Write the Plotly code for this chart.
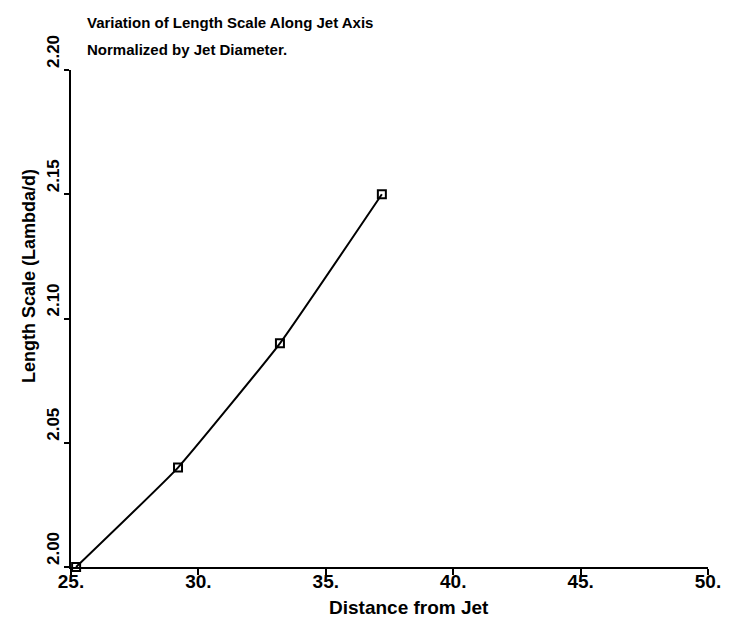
import plotly.graph_objects as go

# Length scale measured along the jet axis
distance = [25.2, 29.2, 33.2, 37.2]
length_scale = [2.00, 2.04, 2.09, 2.15]

x_ticks = [25, 30, 35, 40, 45, 50]
x_tick_text = ["25.", "30.", "35.", "40.", "45.", "50."]
y_ticks = [2.00, 2.05, 2.10, 2.15, 2.20]
y_tick_text = ["2.00", "2.05", "2.10", "2.15", "2.20"]

title_lines = ["Variation of Length Scale Along Jet Axis", "Normalized by Jet Diameter."]

FONT = "Liberation Sans, Arial, sans-serif"

# plot area in pixels (left, right, top, bottom)
L, R, T, B = 71, 708, 70, 567
W, H = R - L, B - T

fig = go.Figure()
fig.add_trace(go.Scatter(
    x=distance,
    y=length_scale,
    mode="lines+markers",
    line=dict(color="black", width=2, shape="spline", smoothing=0.35),
    marker=dict(symbol="square-open", size=8, color="black",
                line=dict(color="black", width=2)),
    cliponaxis=False,
    showlegend=False,
))

annotations = []
for i, line in enumerate(title_lines):
    annotations.append(dict(
        text=line,
        xref="paper", yref="paper",
        x=(85 - L) / W, y=1 + (T - (22 + 27 * i)) / H,
        xanchor="left", yanchor="middle",
        align="left",
        showarrow=False,
        font=dict(family=FONT, size=15, weight="bold"),
    ))
annotations.append(dict(
    text="Distance from Jet",
    xref="paper", yref="paper",
    x=(409 - L) / W, y=-(607 - B) / H,
    xanchor="center", yanchor="middle",
    showarrow=False,
    font=dict(family=FONT, size=19, weight="bold"),
))
annotations.append(dict(
    text="Length Scale (Lambda/d)",
    xref="paper", yref="paper",
    x=-(L - 29) / W, y=(B - 276) / H,
    xanchor="center", yanchor="middle",
    textangle=-90,
    showarrow=False,
    font=dict(family=FONT, size=18, weight="bold"),
))

fig.update_layout(
    width=732,
    height=621,
    margin=dict(l=L, r=732 - R, t=T, b=621 - B),
    paper_bgcolor="white",
    plot_bgcolor="white",
    font=dict(family=FONT, color="black"),
    xaxis=dict(
        range=[25, 50],
        tickmode="array",
        tickvals=x_ticks,
        ticktext=x_tick_text,
        ticks="outside",
        ticklen=6,
        tickwidth=1.5,
        tickcolor="black",
        showline=True,
        linecolor="black",
        linewidth=1.5,
        showgrid=False,
        zeroline=False,
        tickfont=dict(family=FONT, size=19, weight="bold"),
        ticklabelstandoff=-10,
    ),
    yaxis=dict(
        range=[2.0, 2.2],
        tickmode="array",
        tickvals=y_ticks,
        ticktext=y_tick_text,
        ticks="outside",
        ticklen=5,
        tickwidth=1.5,
        tickcolor="black",
        showline=True,
        linecolor="black",
        linewidth=2,
        showgrid=False,
        zeroline=False,
        tickangle=-90,
        tickfont=dict(family=FONT, size=17, weight="bold"),
        ticklabelstandoff=-2,
        ticklabelshift=-16,
    ),
    annotations=annotations,
)

fig.write_html("out.html")
